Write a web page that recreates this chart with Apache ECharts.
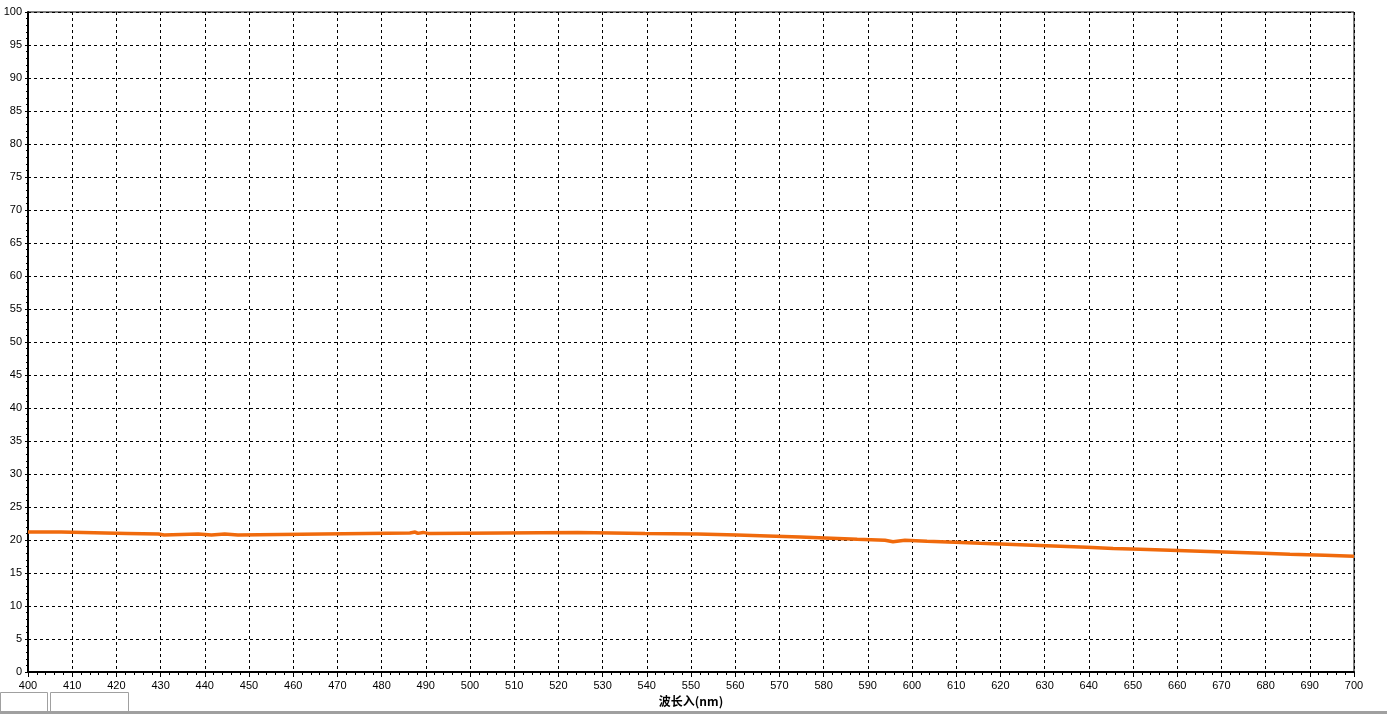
<!DOCTYPE html>
<html>
<head>
<meta charset="utf-8">
<script src="https://cdn.jsdelivr.net/npm/echarts@6/dist/echarts.min.js"></script>
<style>
html,body{margin:0;padding:0;background:#fff;}
#c{width:1387px;height:714px;}
</style>
</head>
<body>
<div id="c"></div>
<script>
// wavelengths (nm) where the stepped reading changes
const wavelengths = [400, 407.5, 422.4, 429.5, 430.8, 438.5, 441.5, 444.5, 447.5, 466.5, 486.4, 487.6, 488.2, 489.4, 490.5, 524.4, 539.6, 551.4, 560.4, 567.4, 574.7, 580.3, 587.6, 593.9, 595.7, 598.4, 603.4, 609.7, 615.4, 621.5, 627.4, 633.5, 639.6, 645.5, 651.6, 658.4, 665.2, 672.4, 679.4, 685.5, 693.4, 700];
// reading (%) held from that wavelength to the next
const values = [21.2, 21.0, 20.9, 20.75, 20.9, 20.75, 20.9, 20.75, 20.9, 21.05, 21.2, 21.0, 21.15, 21.0, 21.15, 21.0, 20.9, 20.75, 20.6, 20.45, 20.3, 20.1, 19.95, 19.75, 19.95, 19.8, 19.65, 19.5, 19.35, 19.2, 19.05, 18.9, 18.7, 18.6, 18.45, 18.3, 18.15, 18.0, 17.85, 17.7, 17.55, 17.55];
const xAxisTitle = '波长入(nm)';

const chart = echarts.init(document.getElementById('c'), null, {renderer: 'canvas'});
const font = 'Liberation Sans, Arial, sans-serif';
chart.setOption({
  animation: false,
  backgroundColor: '#fff',
  grid: {left: 28, right: 33, top: 12, bottom: 42, show: true, borderColor: '#000', borderWidth: 1, backgroundColor: 'transparent'},
  xAxis: {
    type: 'value', min: 400, max: 700, interval: 10,
    name: xAxisTitle, nameLocation: 'middle', nameGap: 21,
    nameTextStyle: {fontFamily: 'Noto Sans CJK SC', fontWeight: 'bold', fontSize: 12, color: '#000', padding: [0, 0, 0, 0]},
    axisLine: {show: true, lineStyle: {color: '#000', width: 2}},
    axisTick: {show: true, length: 5, lineStyle: {color: '#000', width: 1}},
    minorTick: {show: true, splitNumber: 5, length: 3, lineStyle: {color: '#000', width: 1}},
    axisLabel: {color: '#000', fontSize: 11, fontFamily: font, margin: 8},
    splitLine: {show: true, lineStyle: {color: '#000', width: 1, type: [3, 3]}}
  },
  yAxis: {
    type: 'value', min: 0, max: 100, interval: 5,
    axisLine: {show: true, lineStyle: {color: '#000', width: 2}},
    axisTick: {show: true, length: 3, lineStyle: {color: '#000', width: 1}},
    minorTick: {show: true, splitNumber: 5, length: 2, lineStyle: {color: '#000', width: 1}},
    axisLabel: {color: '#000', fontSize: 11, fontFamily: font, margin: 6},
    splitLine: {show: true, lineStyle: {color: '#000', width: 1, type: [3, 3]}}
  },
  series: [{
    type: 'line',
    step: 'end',
    showSymbol: false,
    data: wavelengths.map((w, i) => [w, values[i]]),
    lineStyle: {color: '#F06A0C', width: 3.5},
    z: 5
  }],
  graphic: [
    {type: 'rect', left: 0, top: 692, shape: {width: 47, height: 20}, style: {fill: '#fff', stroke: '#a0a0a0', lineWidth: 1}, z: 100},
    {type: 'rect', left: 50, top: 692, shape: {width: 78, height: 20}, style: {fill: '#fff', stroke: '#a0a0a0', lineWidth: 1}, z: 100},
    {type: 'rect', left: 0, top: 711, shape: {width: 1387, height: 3}, style: {fill: '#a0a0a0'}, z: 100}
  ]
});
</script>
</body>
</html>
